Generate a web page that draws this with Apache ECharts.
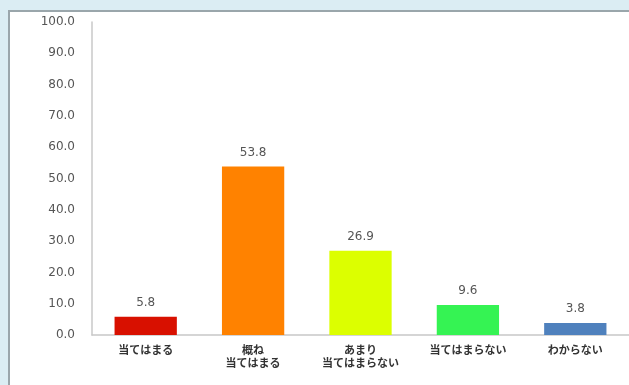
<!DOCTYPE html>
<html>
<head>
<meta charset="utf-8">
<script src="https://cdn.jsdelivr.net/npm/echarts@6/dist/echarts.min.js"></script>
<style>
html,body{margin:0;padding:0;width:629px;height:385px;overflow:hidden;background:#dbedf3;}
#panel{position:absolute;left:8px;top:10px;width:640px;height:400px;background:#fff;border-left:2px solid #9aa6ab;border-top:2px solid #9aa6ab;box-sizing:border-box;}
#chart{position:absolute;left:0;top:0;width:629px;height:385px;}
</style>
</head>
<body>
<div id="panel"></div>
<div id="chart"></div>
<script>
const categories = ['当てはまる', '概ね\n当てはまる', 'あまり\n当てはまらない', '当てはまらない', 'わからない'];
const values = [5.8, 53.8, 26.9, 9.6, 3.8];
const colors = ['#d81000', '#ff8200', '#dcff00', '#35f353', '#4f81bd'];

const chart = echarts.init(document.getElementById('chart'));
chart.setOption({
  animation: false,
  backgroundColor: 'transparent',
  textStyle: { fontFamily: 'Noto Sans CJK JP' },
  grid: { left: 92, top: 22, right: -2, bottom: 50 },
  xAxis: {
    type: 'category',
    data: categories,
    axisLine: { lineStyle: { color: '#c8c8c8', width: 1.5 } },
    axisTick: { show: false },
    axisLabel: { color: '#333', fontSize: 11, fontWeight: 'bold', lineHeight: 13, margin: 8, fontFamily: 'Noto Sans CJK JP' }
  },
  yAxis: {
    type: 'value',
    min: 0, max: 100, interval: 10,
    axisLine: { show: true, lineStyle: { color: '#c8c8c8', width: 1.5 } },
    axisTick: { show: false },
    splitLine: { show: false },
    axisLabel: { color: '#555', fontSize: 12, margin: 17, formatter: v => v.toFixed(1), fontFamily: 'Verdana, DejaVu Sans' }
  },
  series: [{
    type: 'bar',
    data: values.map((v, i) => ({ value: v, itemStyle: { color: colors[i] } })),
    barWidth: '58%',
    label: { show: true, position: 'top', distance: 8, color: '#555', fontSize: 12, formatter: p => p.value.toFixed(1), fontFamily: 'DejaVu Sans' }
  }]
});
</script>
</body>
</html>
